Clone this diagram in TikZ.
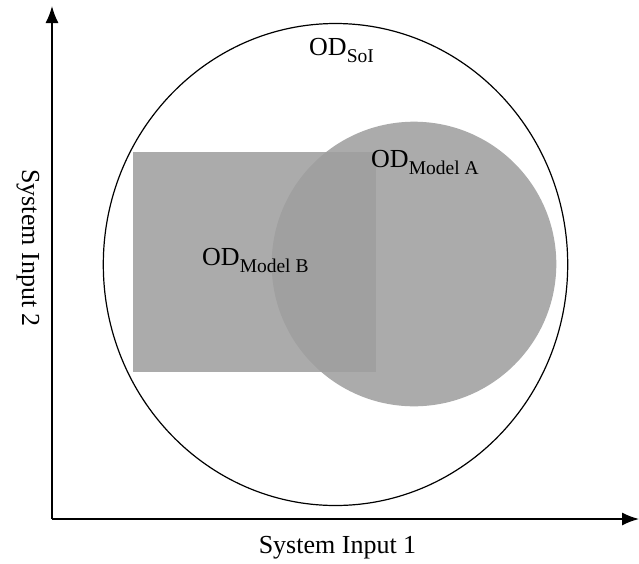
\documentclass[tikz,border=0pt]{standalone}
\usepackage{fontspec}
\setmainfont{Liberation Serif}
\usetikzlibrary{arrows.meta}
\definecolor{regiongray}{RGB}{158,158,158}
\tikzset{
  axis/.style={line width=1.6pt,-{Latex[length=17pt,width=13pt]}},
  region/.style={fill=regiongray,fill opacity=0.87,draw=none},
  lbl/.style={font=\fontsize{26}{31}\selectfont,inner sep=0pt},
}
\newcommand{\subtxt}[1]{\raisebox{-7pt}{\fontsize{19.5}{21}\selectfont #1}}
\begin{document}
\begin{tikzpicture}[x=1pt,y=-1pt]
\useasboundingbox (0,0) rectangle (639,563);
% outer domain
\draw[line width=1.2pt] (335.5,264.5) ellipse [x radius=232.2, y radius=241];
% model regions
\fill[region] (133,152) rectangle (376,372);
\fill[region] (414,264) circle [radius=142.3];
% axes
\coordinate (o) at (52,519);
\coordinate (ytip) at (52,6);
\coordinate (xtip) at (639,519);
\draw[axis] (o) -- (ytip);
\draw[axis] (o) -- (xtip);
% labels
\node[lbl,anchor=base west] (soi) at (309,55.5) {OD\subtxt{SoI}};
\node[lbl,anchor=base west] (ma) at (371,167) {OD\subtxt{Model A}};
\node[lbl,anchor=base west] (mb) at (202,265) {OD\subtxt{Model B}};
\node[lbl,anchor=base] (x1) at (337.5,553) {System Input 1};
\node[lbl,rotate=-90] (x2) at (28,248) {System Input 2};
\end{tikzpicture}
\end{document}
